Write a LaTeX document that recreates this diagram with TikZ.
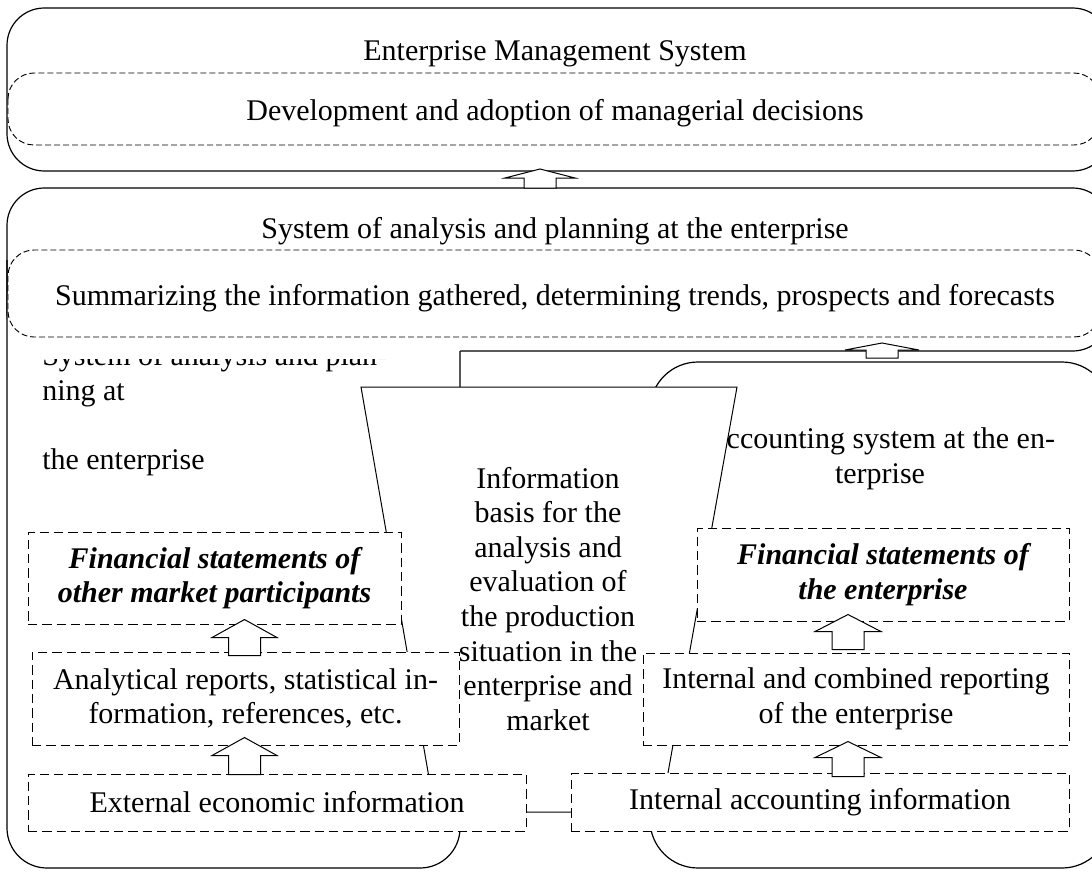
\documentclass[tikz,border=0pt]{standalone}
\usepackage{fontspec}
\setmainfont{Liberation Serif}
\usetikzlibrary{calc}
\newcommand{\px}{0.75pt}
\newcommand{\diagfont}{\fontsize{22.5pt}{25.95pt}\selectfont}
\tikzset{
  pics/blockup/.style n args={3}{code={
    \draw[line width=0.75pt, fill=white] (-16,0) -- (-16,{-(#1-#2)}) -- (-#3,{-(#1-#2)})
      -- (0,-#1) -- (#3,{-(#1-#2)}) -- (16,{-(#1-#2)}) -- (16,0) -- cycle;
  }},
  sysbox/.style={line width=0.9pt},
  inbox/.style={dash pattern=on 4.5pt off 2.25pt, line width=0.7pt, fill=white},
  dbox/.style={draw, dash pattern=on 7pt off 3.75pt, line width=0.7pt, fill=white,
    align=center, inner sep=0pt},
  txt/.style={inner sep=0pt, anchor=base}
}

\begin{document}
\begin{tikzpicture}[x=\px, y=-\px, font=\diagfont]
    \useasboundingbox (0,0) rectangle (1092,871);
    \clip (0,0) rectangle (1092,871);
    % management system
    \draw[sysbox, rounded corners=28pt] (7,8) rectangle (1110,171);
    \draw[inbox, rounded corners=19.5pt] (8,73) rectangle (1100,145);
    \node[txt] (ems) at (555,60) {Enterprise Management System};
    \node[txt] (decis) at (555,120) {Development and adoption of managerial decisions};
    % analysis and planning
    \draw[sysbox, rounded corners=28pt] (7,188) rectangle (1110,351);
    \node[txt] (sap) at (555,238) {System of analysis and planning at the enterprise};
    \fill[white, rounded corners=30pt] (7,260) rectangle (460,868);
    \draw[sysbox, rounded corners=30pt] (7,260) -- (7,868) -- (460,868) -- (460,351);
    \node[inner sep=0pt, anchor=north west, align=left] (saptext) at (42,344.5)
      {System of analysis and plan-\\ning at\\[25.95pt]the enterprise};
    \fill[white] (7.8,337) rectangle (459.4,359);
    \draw[inbox, rounded corners=19.5pt] (8,250) rectangle (1100,337);
    \node[txt] (summ) at (555,305) {Summarizing the information gathered, determining trends, prospects and forecasts};
    % accounting
    \draw[sysbox, fill=white, rounded corners=36pt] (650,362) rectangle (1110,868);
    \node[inner sep=0pt, anchor=north, align=center] (acct) at (880,427.5)
      {Accounting system at the en-\\terprise};
    % information basis
    \draw[line width=0.75pt, fill=white] (361,387) -- (737,387) -- (661,812) -- (435,812) -- cycle;
    \pic at (540,188) {blockup={19}{9}{35}};
    \pic at (882,358) {blockup={15}{7}{37}};
    % reports
    \node[dbox, minimum width=373*\px, minimum height=92*\px, font=\diagfont\bfseries\itshape]
      (fother) at (214.5,578) {Financial statements of\\other market participants};
    \node[dbox, minimum width=427*\px, minimum height=93*\px]
      (anrep) at (245.5,698.5) {Analytical reports, statistical in-\\formation, references, etc.};
    \node[dbox, minimum width=498*\px, minimum height=57*\px]
      (extinfo) at (277,802.5) {External economic information};
    \node[dbox, minimum width=372*\px, minimum height=93*\px, font=\diagfont\bfseries\itshape]
      (finent) at (883,574.5) {Financial statements of\\the enterprise};
    \node[dbox, minimum width=426*\px, minimum height=92*\px]
      (intrep) at (856,699) {Internal and combined reporting\\of the enterprise};
    \node[dbox, minimum width=498*\px, minimum height=58*\px]
      (intacc) at (820,802) {Internal accounting information};
    \pic at ($(anrep.north)+(-1,4)$) {blockup={36}{18}{32.5}};
    \pic at ($(extinfo.north)+(-32.5,1)$) {blockup={37}{18}{32.5}};
    \pic at ($(intrep.north)+(-8,-3)$) {blockup={35}{17}{33}};
    \pic at ($(intacc.north)+(28,4)$) {blockup={35}{16}{33}};
    \node[inner sep=0pt, align=center] (basis) at (548,598.75)
      {Information\\basis for the\\analysis and\\evaluation of\\the production\\situation in the\\enterprise and\\market};
  \end{tikzpicture}
\end{document}
